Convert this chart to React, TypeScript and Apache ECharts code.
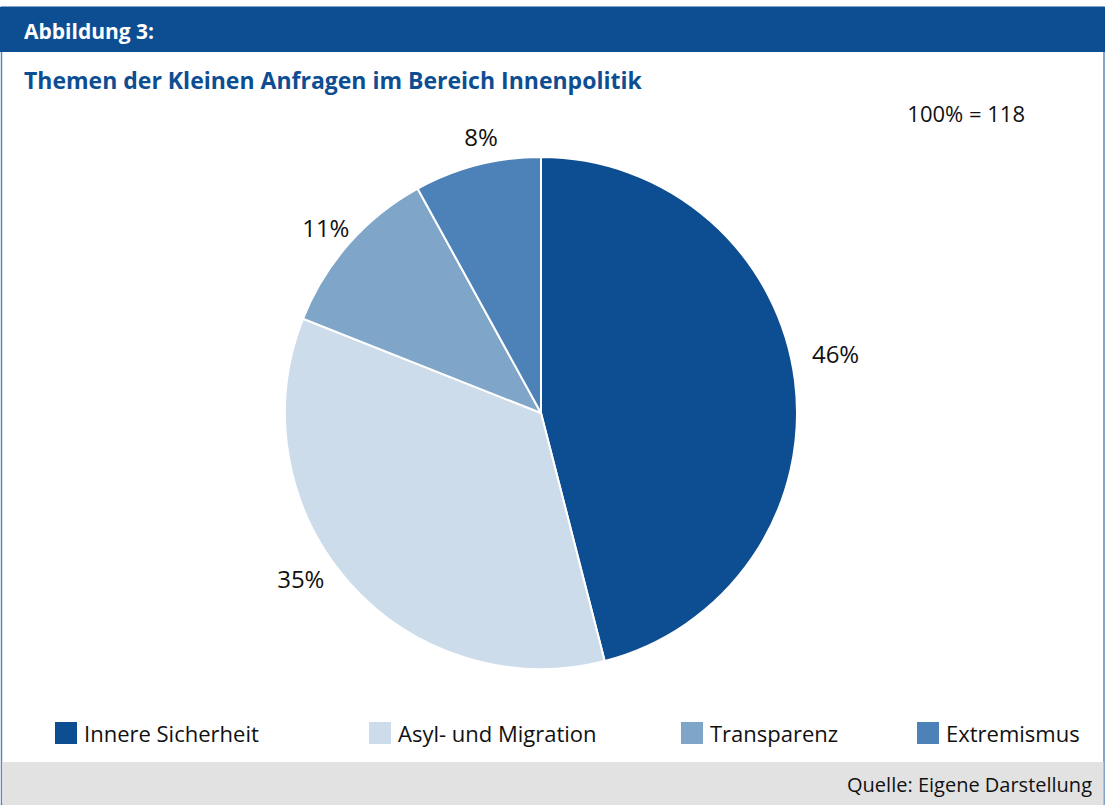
import React, { useEffect, useRef } from "react";
import * as echarts from "echarts";

const categories = ["Innere Sicherheit", "Asyl- und Migration", "Transparenz", "Extremismus"];
const values = [46, 35, 11, 8];
const colors = ["#0d4e93", "#cddcea", "#7fa5c9", "#4d82b8"];
const legendLeft = [53, 367, 679, 915];
const labelShift = [
  [2, -26],
  [-12, -10],
  [13, -10],
  [28, -19],
];
const FONT = "'Open Sans', 'Noto Sans', sans-serif";

export default function App() {
  const ref = useRef<HTMLDivElement>(null);
  useEffect(() => {
    if (!ref.current) return;
    const chart = echarts.init(ref.current, null, { renderer: "svg" });
    chart.setOption({
      animation: false,
      backgroundColor: "#ffffff",
      textStyle: { fontFamily: FONT },
      graphic: [
        { type: "rect", shape: { x: 1.5, y: 7, width: 1102.5, height: 798 }, style: { fill: "#fff", stroke: "#5b86ba", lineWidth: 1.5 }, z: -10 },
        { type: "rect", shape: { x: 0, y: 7, width: 1105, height: 45 }, style: { fill: "#0d4e93" }, z: -5 },
        { type: "rect", shape: { x: 2.5, y: 762, width: 1101, height: 43 }, style: { fill: "#e2e2e2" }, z: -5 },
        { type: "text", x: 24, y: 31, style: { text: "Abbildung 3:", fill: "#fff", font: `bold 21px ${FONT}`, textVerticalAlign: "middle" } },
        { type: "text", x: 24, y: 80, style: { text: "Themen der Kleinen Anfragen im Bereich Innenpolitik", fill: "#0d4e93", font: `bold 23px ${FONT}`, textVerticalAlign: "middle" } },
        { type: "text", x: 1025, y: 113, style: { text: "100% = 118", fill: "#111", font: `22px ${FONT}`, textAlign: "right", textVerticalAlign: "middle" } },
        { type: "text", x: 1092, y: 784, style: { text: "Quelle: Eigene Darstellung", fill: "#111", font: `20px ${FONT}`, textAlign: "right", textVerticalAlign: "middle" } },
      ],
      legend: categories.map((c, i) => ({
        data: [c],
        left: legendLeft[i],
        top: 720,
        padding: 0,
        itemWidth: 24,
        itemHeight: 24,
        itemGap: 0,
        icon: "rect",
        selectedMode: false,
        textStyle: { fontSize: 22, color: "#111", fontFamily: FONT, padding: [0, 0, 0, 1] },
      })),
      series: [
        {
          type: "pie",
          center: [541, 413],
          radius: [0, 256],
          startAngle: 90,
          clockwise: true,
          data: categories.map((c, i) => ({ name: c, value: values[i], itemStyle: { color: colors[i] } })),
          itemStyle: { borderColor: "#fff", borderWidth: 2 },
          label: {
            show: true,
            position: "outside",
            formatter: "{d}%",
            fontSize: 24,
            color: "#111",
            fontFamily: FONT,
          },
          labelLine: { show: false, length: 10, length2: 0 },
          labelLayout: (p: any) => ({ dx: labelShift[p.dataIndex][0], dy: labelShift[p.dataIndex][1] }),
        },
      ],
    });
    return () => chart.dispose();
  }, []);
  return <div ref={ref} style={{ position: "absolute", left: 0, top: 0, width: 1111, height: 805 }} />;
}
